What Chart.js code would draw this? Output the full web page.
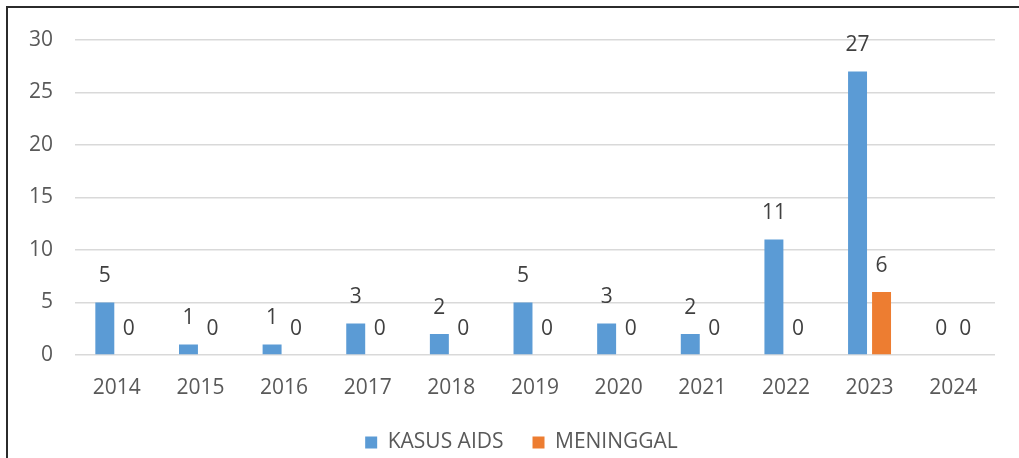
<!DOCTYPE html>
<html>
<head>
<meta charset="utf-8">
<script src="https://cdn.jsdelivr.net/npm/chart.js@4"></script>
<style>
  html, body { margin: 0; padding: 0; background: #fff; overflow: hidden; }
  #frame {
    position: absolute; left: 6px; top: 6px; width: 1030px; height: 470px;
    border-left: 2px solid #2b2b2b; border-top: 2px solid #2b2b2b;
  }
  #wrap { position: absolute; left: 0; top: 0; width: 1019px; height: 463px; }
</style>
</head>
<body>
<div id="frame"></div>
<div id="wrap"><canvas id="chart" width="1019" height="463"></canvas></div>
<script>
const years = ["2014", "2015", "2016", "2017", "2018", "2019", "2020", "2021", "2022", "2023", "2024"];
const kasusAids = [5, 1, 1, 3, 2, 5, 3, 2, 11, 27, 0];
const meninggal = [0, 0, 0, 0, 0, 0, 0, 0, 0, 6, 0];
const yTicks = [0, 5, 10, 15, 20, 25, 30];

const FONT = "'Open Sans', sans-serif";

// value labels above each bar (also for zero values)
const barLabels = {
  id: "barLabels",
  afterDatasetsDraw(chart) {
    const ctx = chart.ctx;
    ctx.save();
    ctx.font = "21px " + FONT;
    ctx.fillStyle = "#404040";
    ctx.textAlign = "center";
    ctx.textBaseline = "middle";
    chart.data.datasets.forEach((ds, i) => {
      chart.getDatasetMeta(i).data.forEach((bar, j) => {
        ctx.fillText(String(ds.data[j]), bar.x, bar.y - 26);
      });
    });
    ctx.restore();
  }
};

// the legend sits centred on the whole frame, a bit right of the plot centre
const legendShift = {
  id: "legendShift",
  afterLayout(chart) {
    const lg = chart.legend;
    if (!lg) return;
    lg.left += 24;
    lg.right += 24;
  }
};

new Chart(document.getElementById("chart").getContext("2d"), {
  type: "bar",
  data: {
    labels: years,
    datasets: [
      {
        label: "KASUS AIDS",
        data: kasusAids,
        backgroundColor: "#5b9bd5",
        categoryPercentage: 0.574,
        barPercentage: 0.79,
      },
      {
        label: "MENINGGAL",
        data: meninggal,
        backgroundColor: "#ed7d31",
        categoryPercentage: 0.574,
        barPercentage: 0.79,
      },
    ],
  },
  options: {
    responsive: false,
    animation: false,
    layout: { padding: { top: 40, right: 24, left: 0, bottom: 0 } },
    plugins: {
      tooltip: { enabled: false },
      legend: {
        position: "bottom",
        labels: {
          font: { family: FONT, size: 21 },
          color: "#595959",
          boxWidth: 12,
          boxHeight: 12,
          padding: 29,
        },
      },
    },
    scales: {
      x: {
        grid: { display: false, drawTicks: false },
        border: { display: false },
        ticks: { font: { family: FONT, size: 21 }, color: "#595959", padding: 20 },
        afterFit: (s) => { s.height = 48; },
      },
      y: {
        min: 0,
        max: 30,
        afterBuildTicks: (s) => { s.ticks = yTicks.map(v => ({ value: v })); },
        grid: { color: "#d9d9d9", lineWidth: 1.5, drawTicks: false },
        border: { display: false },
        ticks: { font: { family: FONT, size: 21 }, color: "#595959", padding: 22 },
        afterFit: (s) => { s.width = 75; },
      },
    },
  },
  plugins: [barLabels, legendShift],
});
</script>
</body>
</html>
